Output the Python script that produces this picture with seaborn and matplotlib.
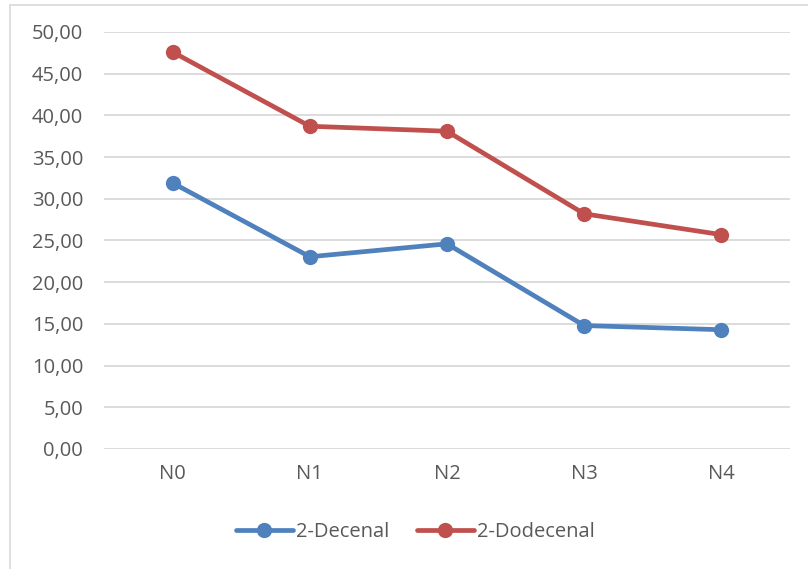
import matplotlib
matplotlib.use("Agg")
import matplotlib.pyplot as plt
from matplotlib.lines import Line2D
from matplotlib.ticker import FuncFormatter, MultipleLocator
import seaborn as sns
import pandas as pd

categories = ["N0", "N1", "N2", "N3", "N4"]
decenal = [31.9, 23.05, 24.6, 14.8, 14.3]
dodecenal = [47.6, 38.7, 38.1, 28.2, 25.7]
series_names = ["2-Decenal", "2-Dodecenal"]
colors = ["#4F81BD", "#C0504D"]

df = pd.DataFrame({
    "cat": categories * 2,
    "x": list(range(len(categories))) * 2,
    "value": decenal + dodecenal,
    "series": [series_names[0]] * len(categories) + [series_names[1]] * len(categories),
})

sns.set_theme(style="white")
plt.rcParams["font.family"] = ["Open Sans", "DejaVu Sans"]
text_color = "#595959"
fs = 14.5

fig = plt.figure(figsize=(8.08, 5.69), dpi=100)
ax = fig.add_axes([0.1287, 0.2109, 0.849, 0.7329])

sns.lineplot(data=df, x="x", y="value", hue="series", palette=colors,
             marker="o", markersize=11, markeredgewidth=0, linewidth=3.4,
             ax=ax, legend=False)

ax.set_xlim(-0.5, 4.5)
ax.set_ylim(0, 50)
ax.yaxis.set_major_locator(MultipleLocator(5))
ax.yaxis.set_major_formatter(FuncFormatter(lambda v, p: f"{v:.2f}".replace(".", ",")))
ax.set_xticks(range(len(categories)))
ax.set_xticklabels(categories)
ax.set_xlabel("")
ax.set_ylabel("")
ax.grid(axis="y", color="#D9D9D9", linewidth=1.3)
ax.set_axisbelow(True)
for s in ax.spines.values():
    s.set_visible(False)
ax.tick_params(axis="both", length=0, labelsize=fs, labelcolor=text_color)
ax.tick_params(axis="y", pad=15)
ax.tick_params(axis="x", pad=11)

handles = [Line2D([], [], color=c, marker="o", markersize=11, linewidth=3.4,
                  markeredgewidth=0) for c in colors]
fig.legend(handles, series_names, loc="center", bbox_to_anchor=(0.514, 0.065),
           ncol=2, frameon=False, fontsize=fs, labelcolor=text_color,
           handlelength=2.8, handletextpad=0.15, columnspacing=1.4)

# chart frame: left and top edges
border = "#D9D9D9"
fig.add_artist(Line2D([9.5 / 808, 9.5 / 808], [0, 1 - 4.5 / 569],
                      transform=fig.transFigure, color=border, linewidth=1.2))
fig.add_artist(Line2D([9.5 / 808, 1], [1 - 4.5 / 569, 1 - 4.5 / 569],
                      transform=fig.transFigure, color=border, linewidth=1.2))

fig.savefig("out.png", dpi=100)
